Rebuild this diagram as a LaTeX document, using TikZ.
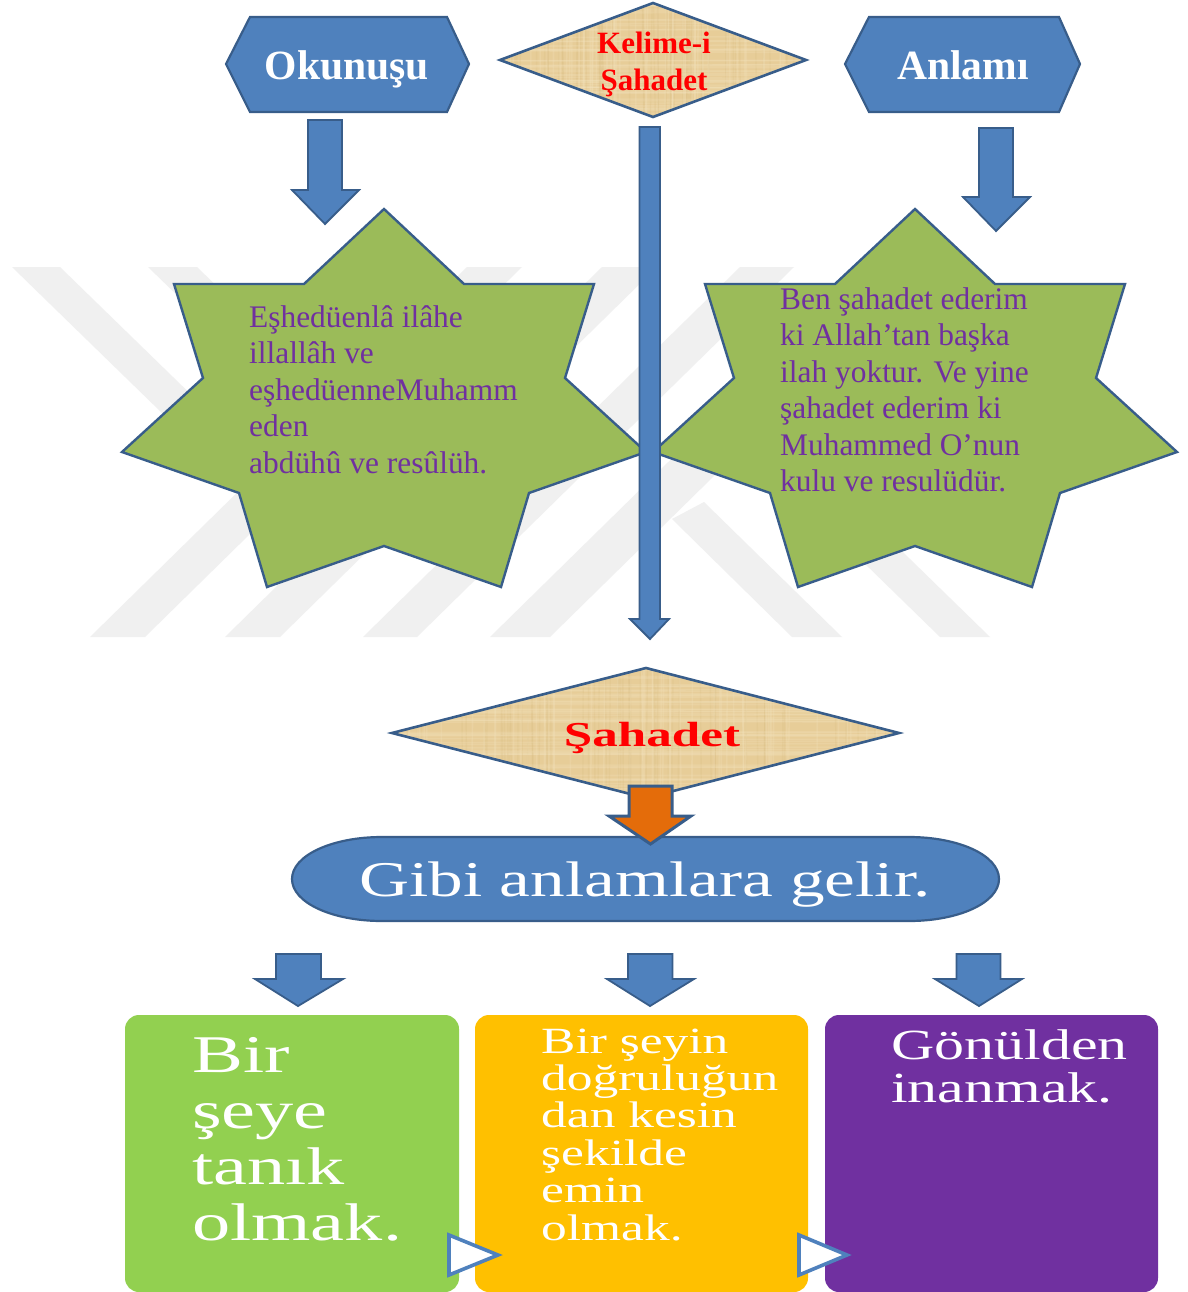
\documentclass[tikz,border=0pt]{standalone}
\usepackage{fontspec}
\setmainfont{Liberation Serif}
\definecolor{wm}{HTML}{F0F0F0}
\definecolor{blue1}{HTML}{4F81BD}
\definecolor{edge1}{HTML}{385D8A}
\definecolor{star1}{HTML}{9BBB59}
\definecolor{purp}{HTML}{7030A0}
\definecolor{papy}{HTML}{E7CD98}
\definecolor{papyd}{HTML}{D6B97C}
\definecolor{papyl}{HTML}{F3E2BC}
\definecolor{orng}{HTML}{E46C0A}
\definecolor{box1}{HTML}{92D050}
\definecolor{box2}{HTML}{FFC000}
\tikzset{
  x=1pt,y=-1pt,
  wmark/.style={fill=wm,draw=none},
  shapeblue/.style={fill=blue1,draw=edge1,line width=2.2pt,line join=miter},
  shapestar/.style={fill=star1,draw=edge1,line width=2.4pt,line join=miter},
  shapepap/.style={draw=edge1,line width=2.6pt,line join=miter},
  arrowblue/.style={fill=blue1,draw=edge1,line width=1.8pt,line join=miter},
  arroworange/.style={fill=orng,draw=edge1,line width=3pt,line join=miter},
  tribox/.style={fill=white,draw=blue1,line width=3.6pt,line join=miter},
  txt/.style={inner sep=0pt,anchor=base west,text=purp},
  txtc/.style={inner sep=0pt,anchor=base},
  startxt/.style={txt,font=\fontsize{31.4}{36.3}\selectfont},
}
\newcommand{\barrow}[8]{% shaftL shaftR top headY headL headR tipX tipY
  \path[arrowstyle] (#1,#3) -- (#1,#4) -- (#5,#4) -- (#7,#8) -- (#6,#4) -- (#2,#4) -- (#2,#3) -- cycle;}
\newcommand{\fullstar}[1]{%
  \begin{scope}[shift={(#1,0)}]
  \draw[shapestar] (0,209) -- (80,284) -- (210,284) -- (181,378) -- (262,452) -- (145,493) -- (117,587) -- (0,546)
    -- (-117,587) -- (-145,493) -- (-262,452) -- (-181,378) -- (-210,284) -- (-80,284) -- cycle;
  \end{scope}}
\newcommand{\papytexture}[4]{% x0 y0 x1 y1
  \foreach \i in {1,...,60}{
    \pgfmathsetmacro{\xa}{#1+rnd*(#3-#1)}
    \draw[papyd,opacity=.2,line width=1.4pt] (\xa,#2) -- ({\xa+4*rnd-2},#4);
    \pgfmathsetmacro{\ya}{#2+rnd*(#4-#2)}
    \draw[papyl,opacity=.25,line width=1.6pt] (#1,\ya) -- (#3,{\ya+4*rnd-2});
    \pgfmathsetmacro{\xb}{#1+rnd*(#3-#1)}
    \draw[papyl,opacity=.25,line width=1.6pt] (\xb,#2) -- ({\xb+4*rnd-2},#4);
  }}
\begin{document}
\begin{tikzpicture}
\pgfmathsetseed{11}
\useasboundingbox (0,0) rectangle (1187,1292);
\fill[white] (0,0) rectangle (1187,1292);

% watermark
\fill[wmark] (12,267) -- (60,267) -- (248,450) -- (200,450) -- cycle;
\fill[wmark] (148,267) -- (197,267) -- (262,330) -- (213,330) -- cycle;
\fill[wmark] (90,637) -- (145,637) -- (522,267) -- (467,267) -- cycle;
\fill[wmark] (225,637) -- (280,637) -- (657,267) -- (602,267) -- cycle;
\fill[wmark] (363,637) -- (417,637) -- (794,267) -- (740,267) -- cycle;
\fill[wmark] (490,637) -- (550,637) -- (770,421) -- (710,421) -- cycle;
\fill[wmark] (792,637) -- (842,637) -- (704,502) -- (672,519) -- cycle;
\fill[wmark] (940,637) -- (990,637) -- (870,520) -- (820,520) -- cycle;

% top row shapes
\draw[shapeblue] (226,64) -- (250,17) -- (447,17) -- (469,64) -- (447,112) -- (250,112) -- cycle;
\node[txtc,text=white,font=\bfseries\fontsize{41.6}{41}\selectfont] (okunusu) at (347,80) {Okunuşu};
\draw[shapeblue] (845,64) -- (869,17) -- (1059,17) -- (1080,64) -- (1059,112) -- (869,112) -- cycle;
\node[txtc,text=white,font=\bfseries\fontsize{41.6}{41}\selectfont] (anlami) at (963,80) {Anlamı};

\fill[papy] (500,60) -- (653,3) -- (806,60) -- (653,117) -- cycle;
\begin{scope}
  \clip (500,60) -- (653,3) -- (806,60) -- (653,117) -- cycle;
  \papytexture{498}{2}{808}{118}
\end{scope}
\draw[shapepap] (500,60) -- (653,3) -- (806,60) -- (653,117) -- cycle;
\node[txtc,text=red,font=\bfseries\fontsize{31}{37}\selectfont] (kelime) at (654,53.5)
  {\vtop{\hsize=130pt\parindent=0pt\baselineskip=37pt\centering Kelime-i\par Şahadet\par}};

% stars
\fullstar{384}
\fullstar{915}
\node[startxt] (sol) at (249,327.5) {\vtop{\baselineskip=36.4pt\hbox{Eşhedüenlâ ilâhe}\hbox{illallâh ve}\hbox{eşhedüenneMuhamm}\hbox{eden}\hbox{abdühû ve resûlüh.}}};
\node[startxt] (sag) at (780,309.5) {\vtop{\baselineskip=36.4pt\hbox{Ben şahadet ederim}\hbox{ki Allah’tan başka}\hbox{ilah yoktur. Ve yine}\hbox{şahadet ederim ki}\hbox{Muhammed O’nun}\hbox{kulu ve resulüdür.}}};

% blue arrows at top
\tikzset{arrowstyle/.style={arrowblue}}
\barrow{308}{342}{120}{190}{292}{359}{325}{224}
\barrow{979}{1013}{128}{197}{963}{1030}{996}{231}
\barrow{639.5}{660}{127}{619}{630}{669}{650}{639}

% Sahadet diamond
\fill[papy] (392,733) -- (646,668) -- (899,733) -- (646,798) -- cycle;
\begin{scope}
  \clip (392,733) -- (646,668) -- (899,733) -- (646,798) -- cycle;
  \papytexture{389}{667}{902}{799}
\end{scope}
\draw[shapepap] (392,733) -- (646,668) -- (899,733) -- (646,798) -- cycle;
\node[txtc,text=red,font=\bfseries\fontsize{35}{35}\selectfont] (sahadet) at (652,746) {\scalebox{1.46}[1]{Şahadet}};

% stadium
\draw[shapeblue] (382,837) -- (909,837) .. controls (958.7,837) and (999,855.3) .. (999,879)
  .. controls (999,902.7) and (958.7,921) .. (909,921) -- (382,921)
  .. controls (332.3,921) and (292,902.7) .. (292,879) .. controls (292,855.3) and (332.3,837) .. (382,837) -- cycle;
\node[txtc,text=white,font=\fontsize{50}{50}\selectfont] (gibi) at (645,896) {\scalebox{1.385}[1]{Gibi anlamlara gelir.}};

% orange arrow
\tikzset{arrowstyle/.style={arroworange}}
\barrow{629}{672}{786}{816}{609}{691}{650.5}{844}

% arrows above boxes
\tikzset{arrowstyle/.style={arrowblue}}
\barrow{276}{321}{954}{979}{255}{343}{298}{1006}
\barrow{628}{672.5}{954}{979}{607}{694}{650}{1006}
\barrow{956.5}{1000.5}{954}{979}{935}{1022}{979}{1006}

% boxes
\fill[box1,rounded corners=14pt] (125,1015) rectangle (459,1292);
\fill[box2,rounded corners=14pt] (475,1015) rectangle (808,1292);
\fill[purp,rounded corners=14pt] (825,1015) rectangle (1158,1292);

\node[txt,text=white,font=\fontsize{53}{56}\selectfont] (kutu1) at (192,1072)
  {\scalebox{1.44}[1]{\vtop{\baselineskip=56pt\hbox{Bir}\hbox{şeye}\hbox{tanık}\hbox{olmak.}}}};
\node[txt,text=white,font=\fontsize{37}{37.4}\selectfont] (kutu2) at (541,1053)
  {\scalebox{1.39}[1]{\vtop{\baselineskip=37.4pt\hbox{Bir şeyin}\hbox{doğruluğun}\hbox{dan kesin}\hbox{şekilde}\hbox{emin}\hbox{olmak.}}}};
\node[txt,text=white,font=\fontsize{43}{43.5}\selectfont] (kutu3) at (891,1059)
  {\scalebox{1.395}[1]{\vtop{\baselineskip=43.5pt\hbox{Gönülden}\hbox{inanmak.}}}};

% small triangles
\draw[tribox] (449,1235) -- (498,1255) -- (449,1275) -- cycle;
\draw[tribox] (799,1235) -- (847,1255) -- (799,1275) -- cycle;
\end{tikzpicture}
\end{document}
